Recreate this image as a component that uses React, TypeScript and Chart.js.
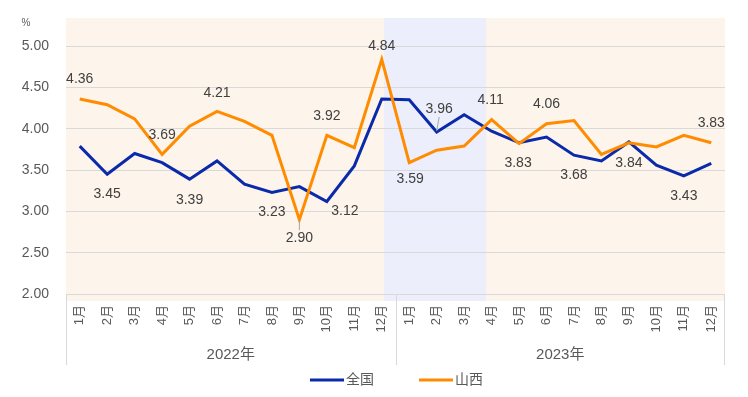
import React, { useEffect, useRef } from 'react';
import { Chart, registerables } from 'chart.js';

Chart.register(...registerables);

// ---- data ----
const months = ['1月', '2月', '3月', '4月', '5月', '6月', '7月', '8月', '9月', '10月', '11月', '12月',
  '1月', '2月', '3月', '4月', '5月', '6月', '7月', '8月', '9月', '10月', '11月', '12月'];
const years = ['2022年', '2023年'];
const seriesNames = ['全国', '山西'];
const national = [3.79, 3.45, 3.70, 3.59, 3.39, 3.61, 3.33, 3.23, 3.30, 3.12, 3.55, 4.36,
  4.35, 3.96, 4.17, 3.97, 3.83, 3.90, 3.68, 3.61, 3.84, 3.56, 3.43, 3.58];
const shanxi = [4.36, 4.29, 4.12, 3.69, 4.03, 4.21, 4.09, 3.92, 2.90, 3.92, 3.77, 4.84,
  3.59, 3.74, 3.79, 4.11, 3.82, 4.06, 4.10, 3.69, 3.83, 3.78, 3.92, 3.83];
const yTicks = [2.0, 2.5, 3.0, 3.5, 4.0, 4.5, 5.0];
const yUnit = '%';

// which points carry a value label
const nationalLabelIdx = [1, 4, 7, 9, 13, 16, 18, 20, 22];
const shanxiLabelIdx = [0, 3, 5, 8, 9, 11, 12, 15, 17, 23];

// ---- placement / style config ----
const nationalLabelOffset: Record<number, [number, number, boolean?]> = {
  1: [0, 20], 4: [0, 21], 7: [0, 20], 9: [18, 10], 13: [2.5, -23, true],
  16: [-1, 20], 18: [0, 20], 20: [0, 21], 22: [0, 20],
};
const shanxiLabelOffset: Record<number, [number, number, boolean?]> = {
  0: [0, -19.5], 3: [0, -19], 5: [0, -18.5], 8: [0, 18.5, true], 9: [0, -19],
  11: [0, -13], 12: [1, 17], 15: [-1, -20], 17: [0, -20], 23: [0, -20],
};
const bandRange = [11.08, 14.8];

const BLUE = '#0A2AAA';
const ORANGE = '#FF8C00';
const TEXT = '#595959';
const LABEL = '#404040';
const GRID = '#D9D9D9';
const FONT = '"Liberation Sans", Arial, "Noto Sans CJK SC", sans-serif';

const decorPlugin = {
  id: 'decor',
  beforeDraw(chart: any) {
    const { ctx, chartArea: ca, scales } = chart;
    const x = scales.x;
    ctx.save();
    ctx.fillStyle = '#FDF4EB';
    ctx.fillRect(ca.left, ca.top, ca.right - ca.left, ca.bottom - ca.top + 7);
    const b0 = x.getPixelForValue(bandRange[0]);
    const b1 = x.getPixelForValue(bandRange[1]);
    ctx.fillStyle = '#ECEEFB';
    ctx.fillRect(b0, ca.top, b1 - b0, ca.bottom - ca.top + 7);
    ctx.restore();
  },
  afterDraw(chart: any) {
    const { ctx, chartArea: ca, scales } = chart;
    const x = scales.x;
    ctx.save();
    // group separators
    ctx.strokeStyle = GRID;
    ctx.lineWidth = 1;
    const mid = (x.getPixelForValue(11) + x.getPixelForValue(12)) / 2;
    const seps = [ca.left + 0.5, Math.round(mid) + 0.5, ca.right - 0.5];
    seps.forEach((sx) => {
      ctx.beginPath();
      ctx.moveTo(sx, ca.bottom);
      ctx.lineTo(sx, 365);
      ctx.stroke();
    });
    // year labels
    ctx.fillStyle = TEXT;
    ctx.font = `15px ${FONT}`;
    ctx.textAlign = 'center';
    ctx.textBaseline = 'middle';
    years.forEach((yr, i) => {
      const cx = (x.getPixelForValue(i * 12) + x.getPixelForValue(i * 12 + 11)) / 2;
      ctx.fillText(yr, cx, 355);
    });
    // unit
    ctx.font = `10px ${FONT}`;
    ctx.fillText(yUnit, 26, 23);
    // value labels
    ctx.font = `14px ${FONT}`;
    const drawLabels = (dsIndex: number, idxs: number[], offs: any, vals: number[]) => {
      const meta = chart.getDatasetMeta(dsIndex);
      idxs.forEach((i) => {
        const pt = meta.data[i];
        const [dx, dy, leader] = offs[i];
        const lx = pt.x + dx;
        const ly = pt.y + dy;
        if (leader) {
          ctx.strokeStyle = '#A6A6A6';
          ctx.lineWidth = 1;
          ctx.beginPath();
          const dir = dy > 0 ? 1 : -1;
          ctx.moveTo(pt.x, pt.y + dir * 1);
          ctx.lineTo(lx, ly - dir * 8);
          ctx.stroke();
        }
        ctx.fillStyle = LABEL;
        ctx.fillText(vals[i].toFixed(2), lx, ly);
      });
    };
    drawLabels(0, nationalLabelIdx, nationalLabelOffset, national);
    drawLabels(1, shanxiLabelIdx, shanxiLabelOffset, shanxi);
    // legend
    const ly = 380;
    const items = [
      { name: seriesNames[0], color: BLUE, x: 310 },
      { name: seriesNames[1], color: ORANGE, x: 419 },
    ];
    ctx.font = `14px ${FONT}`;
    ctx.textAlign = 'left';
    items.forEach((it) => {
      ctx.strokeStyle = it.color;
      ctx.lineWidth = 3;
      ctx.beginPath();
      ctx.moveTo(it.x, ly);
      ctx.lineTo(it.x + 34, ly);
      ctx.stroke();
      ctx.fillStyle = TEXT;
      ctx.fillText(it.name, it.x + 36, ly);
    });
    ctx.restore();
  },
};

export default function App() {
  const ref = useRef<HTMLCanvasElement>(null);
  useEffect(() => {
    document.body.style.margin = '0';
    const chart = new Chart(ref.current!, {
      type: 'line',
      data: {
        labels: months,
        datasets: [
          {
            label: seriesNames[0],
            data: national,
            borderColor: BLUE,
            backgroundColor: BLUE,
            borderWidth: 3,
            pointRadius: 0,
            tension: 0,
            order: 1,
          },
          {
            label: seriesNames[1],
            data: shanxi,
            borderColor: ORANGE,
            backgroundColor: ORANGE,
            borderWidth: 3,
            pointRadius: 0,
            tension: 0,
            order: 0,
          },
        ],
      },
      options: {
        animation: false,
        responsive: true,
        maintainAspectRatio: false,
        layout: { padding: { left: 0, right: 23, top: 18, bottom: 32 } },
        plugins: { legend: { display: false }, tooltip: { enabled: false } },
        scales: {
          x: {
            offset: true,
            grid: { display: false },
            border: { display: false },
            ticks: {
              color: TEXT,
              font: { size: 13, family: FONT },
              minRotation: 90,
              maxRotation: 90,
              autoSkip: false,
              padding: 3,
            },
            afterFit: (s: any) => { s.height = 71; s.paddingLeft = 0; s.paddingRight = 0; },
          },
          y: {
            min: 2,
            max: 5.34,
            grid: { color: GRID, drawTicks: false },
            border: { display: false },
            ticks: {
              color: TEXT,
              font: { size: 14, family: FONT },
              padding: 17,
              callback: (v: any) => Number(v).toFixed(2),
            },
            afterBuildTicks: (s: any) => { s.ticks = yTicks.map((v) => ({ value: v })); },
            afterFit: (s: any) => { s.width = 66; s.paddingTop = 0; s.paddingBottom = 0; },
          },
        },
      },
      plugins: [decorPlugin],
    });
    return () => chart.destroy();
  }, []);
  return (
    <div style={{ position: 'fixed', left: 0, top: 0, width: 748, height: 397 }}>
      <canvas ref={ref} />
    </div>
  );
}
